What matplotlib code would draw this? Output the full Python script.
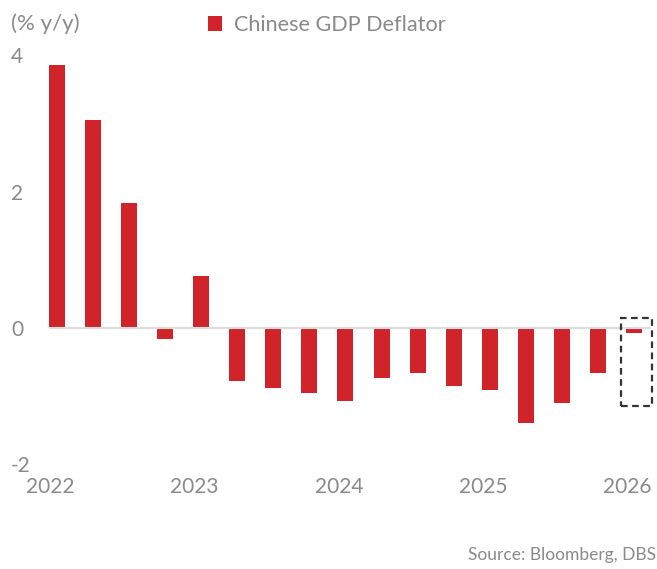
import matplotlib
matplotlib.use("Agg")
import matplotlib.pyplot as plt
from matplotlib.patches import Patch, Rectangle

# Data (quarterly, 2022Q1 - 2026Q1)
quarters = ["2022Q1", "2022Q2", "2022Q3", "2022Q4",
            "2023Q1", "2023Q2", "2023Q3", "2023Q4",
            "2024Q1", "2024Q2", "2024Q3", "2024Q4",
            "2025Q1", "2025Q2", "2025Q3", "2025Q4",
            "2026Q1"]
deflator = [3.86, 3.05, 1.83, -0.16,
            0.76, -0.77, -0.88, -0.95,
            -1.07, -0.73, -0.66, -0.85,
            -0.91, -1.39, -1.10, -0.66,
            -0.07]
year_labels = ["2022", "2023", "2024", "2025", "2026"]
y_ticks = [-2, 0, 2, 4]

RED = "#D0232A"
GREY = "#8a8a8a"
FONT = "Lato"

W, H = 657, 569
fig = plt.figure(figsize=(W / 100, H / 100), dpi=100)

# axes region in pixels
left_px, right_px, top_px, bot_px = 40, 657, 40, 470
ax = fig.add_axes([left_px / W, 1 - bot_px / H, (right_px - left_px) / W, (bot_px - top_px) / H])

px_per_q = 36.06
px_per_unit = 68.2
x0_px = 57
zero_px = 328
ax.set_xlim((left_px - x0_px) / px_per_q, (right_px - x0_px) / px_per_q)
ax.set_ylim((zero_px - bot_px) / px_per_unit, (zero_px - top_px) / px_per_unit)

x = list(range(len(quarters)))
ax.bar(x, deflator, width=0.444, color=RED, zorder=2, label="Chinese GDP Deflator")

# zero line
ax.plot([(49 - x0_px) / px_per_q, (651 - x0_px) / px_per_q], [0, 0],
        color="#dcdcdc", lw=1.5, zorder=3, solid_capstyle="butt")

# dashed box around last (forecast) bar
last = len(quarters) - 1
rect = Rectangle((last - 0.36, -1.14), 0.86, 1.29, fill=False,
                 edgecolor="#333333", lw=1.6, linestyle=(0, (3, 2)), zorder=4)
ax.add_patch(rect)

for s in ax.spines.values():
    s.set_visible(False)

# y ticks
ax.set_yticks(y_ticks)
ax.set_yticklabels([str(v) for v in y_ticks], fontfamily=FONT, fontsize=15, color=GREY)
for lab in ax.get_yticklabels():
    lab.set_horizontalalignment("left")
ax.tick_params(axis="y", length=0, pad=(left_px - 11) * 0.72)

# x ticks at year starts
ax.set_xticks([i * 4 - 0.18 for i in range(len(year_labels))])
ax.set_xticklabels(year_labels, fontfamily=FONT, fontsize=15, color=GREY)
ax.tick_params(axis="x", length=0, pad=5)

# unit label
fig.text(11 / W, 1 - 24 / H, "(% y/y)", fontfamily=FONT, fontsize=16,
         color=GREY, ha="left", va="center")

# legend
handle = Patch(facecolor=RED, edgecolor="none")
fig.legend([handle], ["Chinese GDP Deflator"], loc="center left",
           bbox_to_anchor=(208 / W, 1 - 25 / H), frameon=False,
           prop={"family": FONT, "size": 15.6}, labelcolor=GREY,
           handlelength=0.64, handleheight=0.64, handletextpad=0.56,
           borderpad=0, borderaxespad=0)

# source
fig.text(656 / W, 1 - 555 / H, "Source: Bloomberg, DBS", fontfamily=FONT,
         fontsize=12.5, color=GREY, ha="right", va="center")

fig.savefig("out.png", dpi=100)
